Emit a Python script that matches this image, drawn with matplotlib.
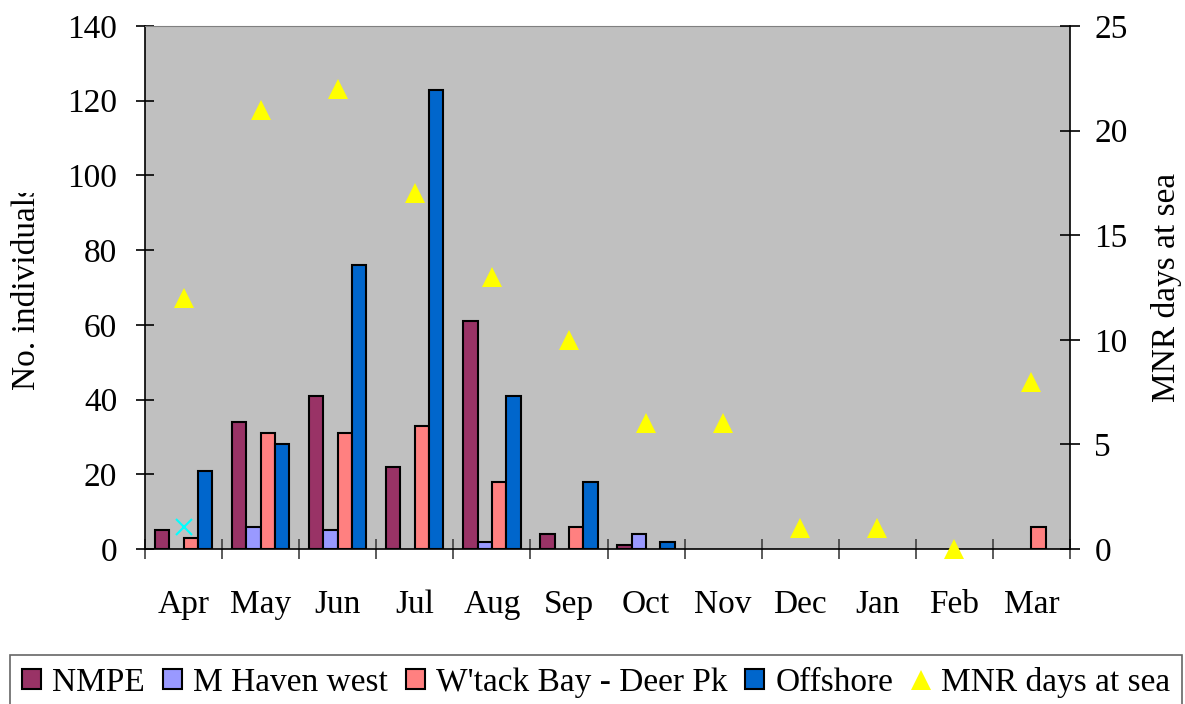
import numpy as np
import matplotlib
matplotlib.use("Agg")
import matplotlib.pyplot as plt
from matplotlib.transforms import Bbox, TransformedBbox
from matplotlib.lines import Line2D
from matplotlib.patches import Patch

months = ["Apr", "May", "Jun", "Jul", "Aug", "Sep", "Oct", "Nov", "Dec", "Jan", "Feb", "Mar"]
nmpe = [5, 34, 41, 22, 61, 4, 1, 0, 0, 0, 0, 0]
m_haven_west = [0, 6, 5, 0, 2, 0, 4, 0, 0, 0, 0, 0]
wtack_bay = [3, 31, 31, 33, 18, 6, 0, 0, 0, 0, 0, 6]
offshore = [21, 28, 76, 123, 41, 18, 2, 0, 0, 0, 0, 0]
mnr_days = [12, 21, 22, 17, 13, 10, 6, 6, 1, 1, 0, 8]
apr_cross = [6, np.nan, np.nan, np.nan, np.nan, np.nan, np.nan, np.nan, np.nan, np.nan, np.nan, np.nan]

series = [("NMPE", nmpe, "#993366"),
          ("M Haven west", m_haven_west, "#9999FF"),
          ("W'tack Bay - Deer Pk", wtack_bay, "#FF8080"),
          ("Offshore", offshore, "#0066CC")]

plt.rcParams['font.family'] = ['Liberation Serif', 'DejaVu Serif']
FS = 24

fig = plt.figure(figsize=(11.85, 7.04), dpi=100)
ax = fig.add_axes([145/1185, 1-549/704, (1070-145)/1185, (549-26)/704])
ax.set_facecolor("#C0C0C0")

x = np.arange(len(months))
w = 0.186
for i, (name, vals, col) in enumerate(series):
    vals_arr = np.array(vals, dtype=float)
    mask = vals_arr > 0
    ax.bar(x[mask] + (i - 1.5) * w, vals_arr[mask], width=w, color=col,
           edgecolor="black", linewidth=1.5, zorder=3)

ax.plot(x, apr_cross, linestyle="none", marker="x", color="#00FFFF",
        markersize=12, markeredgewidth=1.5, zorder=4)

ax.set_xlim(-0.5, len(months) - 0.5)
ax.set_ylim(0, 140)
ax.set_yticks(np.arange(0, 141, 20))
ax.set_xticks(x)
ax.set_xticklabels(months)
ax.set_xticks(np.arange(-0.5, len(months), 1.0), minor=True)
ax.tick_params(axis="x", which="major", length=0, pad=29, labelsize=FS)
ax.tick_params(axis="x", which="minor", direction="inout", length=15, width=1.2, color="#404040")
ax.tick_params(axis="y", direction="inout", length=13, width=1.2, labelsize=FS, pad=13.5)

ax.spines["top"].set_color("#808080")
ax.spines["right"].set_visible(False)
for s in ["left", "bottom"]:
    ax.spines[s].set_linewidth(1.2)

ax2 = ax.twinx()
ax2.set_ylim(0, 25)
ax2.set_yticks(np.arange(0, 26, 5))
ax2.plot(x, mnr_days, linestyle="none", marker="^", color="#FFFF00",
         markersize=14, markeredgewidth=0, zorder=5, clip_on=False)
ax2.tick_params(axis="y", direction="inout", length=15, width=1.2, labelsize=FS, pad=10)
for s in ["left", "bottom", "top"]:
    ax2.spines[s].set_visible(False)
ax2.spines["right"].set_linewidth(1.2)

# axis titles (left one clipped at its end as in the reference)
lab = fig.text(27/1185, 1 - 287/704, "No. individuals", rotation=90, ha="center", va="center",
               fontsize=FS)
lab.set_clip_on(True)
lab.set_clip_box(TransformedBbox(Bbox([[0, 0], [0.1, (704 - 193) / 704]]), fig.transFigure))
fig.text(1166/1185, 1 - 287/704, "MNR days at sea", rotation=90, ha="center", va="center",
         fontsize=FS)

handles = [Patch(facecolor=col, edgecolor="black", linewidth=1.5, label=name) for name, _, col in series]
handles.append(Line2D([], [], linestyle="none", marker="^", color="#FFFF00", markersize=14,
                      markeredgewidth=0, label="MNR days at sea"))
leg = fig.legend(handles=handles, loc="upper left", bbox_to_anchor=(10/1185, 1 - 655/704),
                 ncol=5, fontsize=FS, frameon=True, fancybox=False, edgecolor="#404040",
                 handlelength=0.57, handleheight=0.57, handletextpad=0.33, columnspacing=0.54,
                 borderpad=0.36, borderaxespad=0)
leg.get_frame().set_linewidth(1.2)

fig.savefig("out.png", dpi=100)
